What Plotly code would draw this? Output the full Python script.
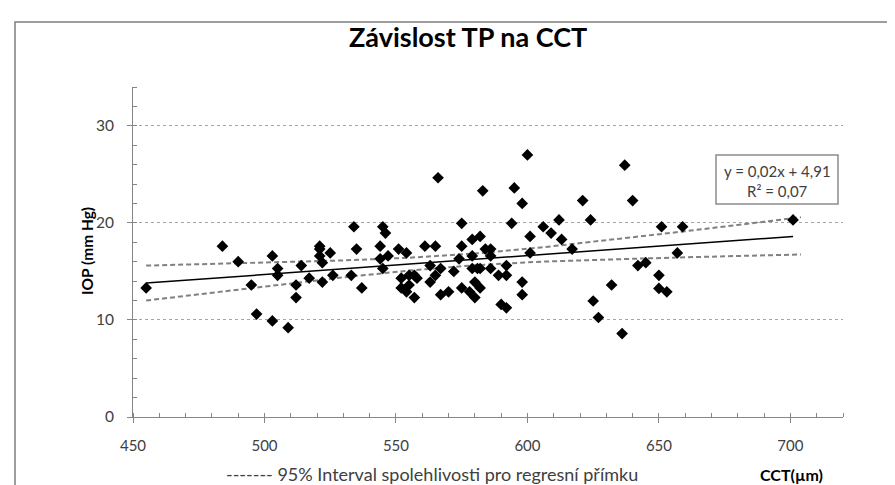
import plotly.graph_objects as go

# ---- data ----
cct = [455, 484, 490, 495, 497, 503, 503, 505, 505, 509, 512, 512, 514, 517,
       521, 521, 521, 522, 522, 525, 526, 533, 534, 535, 537, 544, 545, 546,
       544, 545, 547, 551, 552, 552, 554, 554, 555, 555, 557, 558, 557, 561,
       563, 563, 565, 565, 566, 567, 567, 570, 572, 574, 575, 575, 575, 578,
       579, 579, 579, 580, 580, 581, 582, 582, 582, 583, 584, 586, 586, 586,
       589, 590, 592, 592, 592, 594, 595, 598, 598, 598, 600, 601, 601, 606,
       609, 612, 613, 617, 621, 624, 625, 627, 632, 636, 637, 640, 642, 645,
       650, 650, 651, 653, 657, 659, 701]
iop = [13.3, 17.6, 16.0, 13.6, 10.6, 16.6, 9.9, 15.3, 14.6, 9.2, 13.6, 12.3, 15.6, 14.3,
       17.6, 17.3, 16.6, 15.9, 13.9, 16.9, 14.6, 14.6, 19.6, 17.3, 13.3, 17.6, 19.6, 18.95,
       16.3, 15.3, 16.6, 17.3, 14.3, 13.3, 16.9, 12.9, 14.6, 13.6, 14.6, 14.3, 12.3, 17.6,
       15.6, 13.9, 17.6, 14.6, 24.65, 15.3, 12.6, 12.9, 15.0, 16.3, 19.95, 17.6, 13.3, 12.9,
       18.3, 16.6, 15.3, 13.9, 12.3, 15.3, 18.6, 15.3, 13.3, 23.3, 17.3, 17.3, 16.6, 15.3,
       14.6, 11.6, 15.6, 14.6, 11.25, 19.95, 23.6, 22.0, 13.9, 12.6, 27.0, 18.6, 16.9, 19.6,
       18.95, 20.3, 18.3, 17.3, 22.3, 20.3, 11.95, 10.25, 13.6, 8.6, 25.95, 22.3, 15.6, 15.9,
       14.6, 13.25, 19.6, 12.9, 16.9, 19.6, 20.3]

trend_x = [455, 701]
trend_y = [13.8, 18.6]

band_x = [455, 480, 505, 530, 555, 580, 605, 630, 655, 680, 704]
band_upper = [15.60, 15.76, 15.94, 16.13, 16.41, 16.84, 17.46, 18.19, 18.98, 19.79, 20.58]
band_lower = [12.00, 12.82, 13.62, 14.39, 15.09, 15.64, 16.00, 16.23, 16.42, 16.59, 16.74]

x_ticks = [450, 500, 550, 600, 650, 700]
y_ticks = [0, 10, 20, 30]

title_text = "Závislost TP na CCT"
y_title = "IOP (mm Hg)"
x_title = "CCT(µm)"
legend_text = "------- 95% Interval spolehlivosti pro regresní přímku"
eq_line1 = "y = 0,02x + 4,91"
eq_line2 = "R² = 0,07"

# ---- layout geometry (pixels) ----
W, H = 895, 485
L, R, T, B = 125, 60, 79, 76
PW, PH = W - L - R, H - T - B
FONT = "Lato, 'Open Sans', sans-serif"
TXT = "#404040"


def px(x):
    return (x - L) / PW


def py(y):
    return (H - B - y) / PH


fig = go.Figure()

fig.add_trace(go.Scatter(x=band_x, y=band_upper, mode="lines",
                         line=dict(color="#808080", width=2, dash="5px,3px"),
                         hoverinfo="skip", showlegend=False))
fig.add_trace(go.Scatter(x=band_x, y=band_lower, mode="lines",
                         line=dict(color="#808080", width=2, dash="5px,3px"),
                         hoverinfo="skip", showlegend=False))
fig.add_trace(go.Scatter(x=trend_x, y=trend_y, mode="lines",
                         line=dict(color="black", width=1.5),
                         showlegend=False))
fig.add_trace(go.Scatter(x=cct, y=iop, mode="markers",
                         marker=dict(symbol="diamond", size=9, color="black"),
                         showlegend=False))

axis_col = "#868686"
fig.update_xaxes(range=[450, 720], tickvals=x_ticks, ticks="outside", ticklen=5,
                 tickcolor=axis_col, showline=True, linecolor=axis_col, linewidth=1,
                 showgrid=False, zeroline=False,
                 minor=dict(dtick=10, ticks="inside", ticklen=4, tickcolor=axis_col, showgrid=False),
                 tickfont=dict(family=FONT, size=15, color=TXT), ticklabelstandoff=10)
fig.update_yaxes(range=[0, 34], tickvals=y_ticks, ticks="outside", ticklen=5,
                 tickcolor=axis_col, showline=True, linecolor=axis_col, linewidth=1,
                 showgrid=True, gridcolor="#a6a6a6", griddash="3px,3px", gridwidth=1,
                 zeroline=False,
                 minor=dict(dtick=2, ticks="inside", ticklen=4, tickcolor=axis_col, showgrid=False),
                 tickfont=dict(family=FONT, size=15.5, color=TXT), ticklabelstandoff=10)

shapes = [
    # chart frame
    dict(type="rect", xref="paper", yref="paper", x0=px(7), x1=px(905), y0=py(495), y1=py(14),
         line=dict(color="#7f7f7f", width=1.5), fillcolor="rgba(0,0,0,0)", layer="below"),
    # equation box
    dict(type="rect", xref="paper", yref="paper", x0=px(708), x1=px(830), y0=py(196), y1=py(147),
         line=dict(color="#8c8c8c", width=1.5), fillcolor="white"),
]

annotations = [
    dict(text="<b>" + title_text + "</b>", x=px(460), y=py(29), xref="paper", yref="paper",
         showarrow=False, font=dict(family=FONT, size=27, color="black"), xanchor="center", yanchor="middle"),
    dict(text="<b>" + y_title + "</b>", x=px(79), y=py(243), xref="paper", yref="paper",
         showarrow=False, textangle=-90, font=dict(family=FONT, size=15.5, color="black"),
         xanchor="center", yanchor="middle"),
    dict(text="<b>" + x_title + "</b>", x=px(783), y=py(466), xref="paper", yref="paper",
         showarrow=False, font=dict(family=FONT, size=16, color="black"), xanchor="center", yanchor="middle"),
    dict(text=legend_text, x=px(216), y=py(466), xref="paper", yref="paper",
         showarrow=False, font=dict(family=FONT, size=18, color=TXT), xanchor="left", yanchor="middle"),
    dict(text=eq_line1, x=px(769), y=py(163), xref="paper", yref="paper",
         showarrow=False, font=dict(family=FONT, size=15, color=TXT), xanchor="center", yanchor="middle"),
    dict(text=eq_line2, x=px(769), y=py(183), xref="paper", yref="paper",
         showarrow=False, font=dict(family=FONT, size=15, color=TXT), xanchor="center", yanchor="middle"),
]

fig.update_layout(width=W, height=H, margin=dict(l=L, r=R, t=T, b=B),
                  paper_bgcolor="white", plot_bgcolor="white",
                  shapes=shapes, annotations=annotations, showlegend=False,
                  font=dict(family=FONT))

fig.write_html("out.html")
